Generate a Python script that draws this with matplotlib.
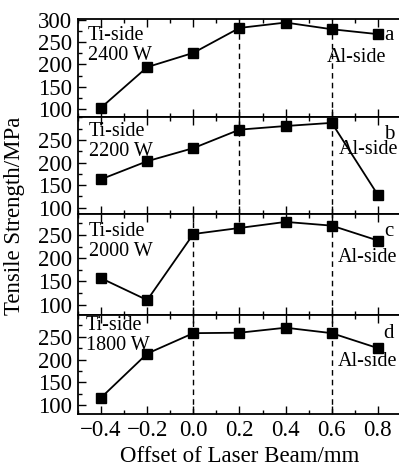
import numpy as np
import matplotlib
matplotlib.use("Agg")
import matplotlib.pyplot as plt
from matplotlib.ticker import MultipleLocator

plt.rcParams['font.family'] = ['Liberation Serif', 'DejaVu Serif']

offset = [-0.4, -0.2, 0.0, 0.2, 0.4, 0.6, 0.8]
s2400 = [103, 194, 226, 282, 294, 279, 268]
s2200 = [163, 203, 232, 273, 281, 288, 128]
s2000 = [157, 110, 252, 265, 278, 270, 238]
s1800 = [116, 213, 258, 259, 270, 258, 225]

series = [s2400, s2200, s2000, s1800]
powers = ["2400 W", "2200 W", "2000 W", "1800 W"]
letters = ["a", "b", "c", "d"]
dashed_x = [[0.2, 0.6], [0.2, 0.6], [0.0, 0.6], [0.0, 0.6]]
ylims = [(82, 302), (86, 301), (78, 295), (80, 298)]
yticks = [[100, 150, 200, 250, 300], [100, 150, 200, 250],
          [100, 150, 200, 250], [100, 150, 200, 250]]

W, H = 399, 471
fig = plt.figure(figsize=(W / 100, H / 100), dpi=100)

# panel edges in pixels (top, bottom)
edges = [(19, 117), (117, 214), (214, 315), (315, 414)]
left, right = 78, 401

# text positions in pixels: (Ti-side x, Ti-side y, letter y, Al-side x, Al-side y)
tpos = [(88, 35, 35, 327, 57),
        (89, 132, 135, 339, 150),
        (89, 231, 232, 338, 257),
        (86, 326, 333, 338, 362)]

for i in range(4):
    top, bot = edges[i]
    ax = fig.add_axes([left / W, 1 - bot / H, (right - left) / W, (bot - top) / H])
    for xv in dashed_x[i]:
        ax.axvline(xv, color='black', ls=(0, (4, 3)), lw=1.0, zorder=1)
    ax.plot(offset, series[i], color='black', lw=1.3, marker='s', ms=6.5, zorder=3)
    ax.set_xlim(-0.5, 0.9)
    ax.set_ylim(*ylims[i])
    ax.set_yticks(yticks[i])
    ax.set_xticks(offset)
    ax.xaxis.set_minor_locator(MultipleLocator(0.1))
    ax.yaxis.set_minor_locator(MultipleLocator(25))
    ax.tick_params(which='both', direction='in', top=True, right=False,
                   labelsize=16.5, width=1.0)
    ax.tick_params(which='major', length=6, pad=4)
    ax.tick_params(which='minor', length=3)
    for sp in ax.spines.values():
        sp.set_linewidth(1.3)
    if i < 3:
        ax.tick_params(labelbottom=False)
    else:
        ax.set_xlabel("Offset of Laser Beam/mm", fontsize=16.5, labelpad=4)

    tx, ty, ly, ax_x, ax_y = tpos[i]
    fig.text(tx / W, 1 - ty / H, "Ti-side", fontsize=14.5, va='center', ha='left')
    fig.text(tx / W, 1 - (ty + 20) / H, powers[i], fontsize=14.5, va='center', ha='left')
    fig.text(389 / W, 1 - ly / H, letters[i], fontsize=15, va='center', ha='center')
    fig.text(ax_x / W, 1 - ax_y / H, "Al-side", fontsize=14.5, va='center', ha='left')

fig.text(15 / W, 1 - 216 / H, "Tensile Strength/MPa", fontsize=16.5,
         rotation=90, va='center', ha='center')

fig.savefig("out.png", dpi=100)
